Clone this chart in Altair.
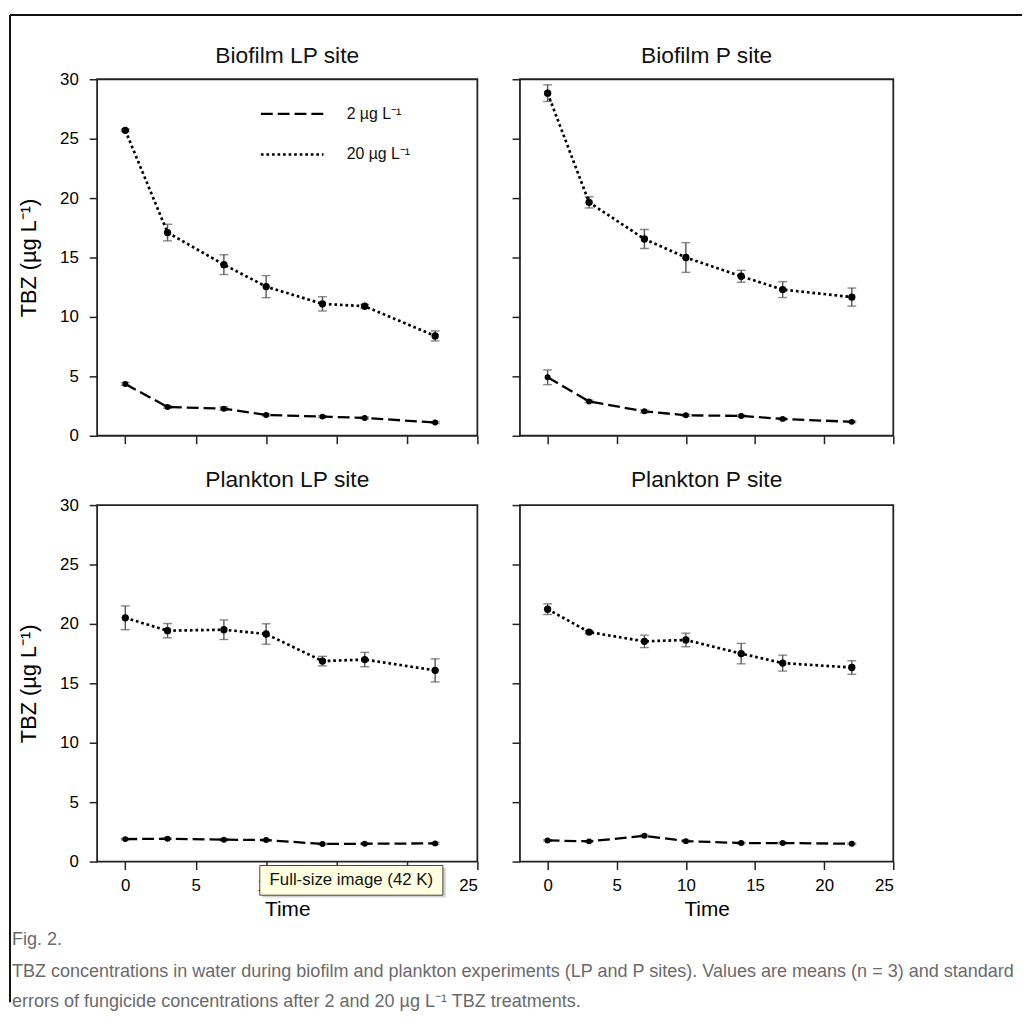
import altair as alt
import pandas as pd

FONT = "Liberation Sans, Arial, Helvetica, sans-serif"

# ---- data ----
times = [0, 3, 7, 10, 14, 17, 22]
CONCS = ["2 µg L⁻¹", "20 µg L⁻¹"]

biofilm_lp_2 = [4.36, 2.42, 2.28, 1.75, 1.61, 1.50, 1.11]
biofilm_lp_2_se = [0.12, 0.10, 0.14, 0.08, 0.08, 0.08, 0.06]
biofilm_lp_20 = [25.7, 17.1, 14.4, 12.55, 11.1, 10.9, 8.4]
biofilm_lp_20_se = [0.10, 0.70, 0.83, 0.93, 0.60, 0.15, 0.42]

biofilm_p_2 = [4.92, 2.89, 2.06, 1.72, 1.67, 1.42, 1.17]
biofilm_p_2_se = [0.62, 0.10, 0.12, 0.08, 0.08, 0.08, 0.06]
biofilm_p_20 = [28.83, 19.64, 16.56, 15.0, 13.42, 12.3, 11.67]
biofilm_p_20_se = [0.70, 0.47, 0.80, 1.25, 0.50, 0.67, 0.76]

plankton_lp_2 = [1.89, 1.92, 1.84, 1.81, 1.48, 1.50, 1.53]
plankton_lp_2_se = [0.06, 0.06, 0.08, 0.06, 0.06, 0.06, 0.08]
plankton_lp_20 = [20.51, 19.43, 19.51, 19.15, 16.87, 17.0, 16.09]
plankton_lp_20_se = [1.0, 0.6, 0.82, 0.86, 0.40, 0.60, 0.97]

plankton_p_2 = [1.78, 1.70, 2.17, 1.72, 1.56, 1.56, 1.50]
plankton_p_2_se = [0.06, 0.06, 0.08, 0.06, 0.06, 0.06, 0.06]
plankton_p_20 = [21.24, 19.31, 18.53, 18.65, 17.5, 16.7, 16.33]
plankton_p_20_se = [0.45, 0.12, 0.53, 0.57, 0.86, 0.67, 0.57]

panel_titles = ["Biofilm LP site", "Biofilm P site", "Plankton LP site", "Plankton P site"]
series = {
    "Biofilm LP site": [(biofilm_lp_2, biofilm_lp_2_se), (biofilm_lp_20, biofilm_lp_20_se)],
    "Biofilm P site": [(biofilm_p_2, biofilm_p_2_se), (biofilm_p_20, biofilm_p_20_se)],
    "Plankton LP site": [(plankton_lp_2, plankton_lp_2_se), (plankton_lp_20, plankton_lp_20_se)],
    "Plankton P site": [(plankton_p_2, plankton_p_2_se), (plankton_p_20, plankton_p_20_se)],
}

x_ticks = [0, 5, 10, 15, 20, 25]
y_ticks = [0, 5, 10, 15, 20, 25, 30]
Y_TITLE = "TBZ (µg L⁻¹)"
X_TITLE = "Time"

caption_lines = [
    "Fig. 2.",
    "TBZ concentrations in water during biofilm and plankton experiments (LP and P sites). Values are means (n = 3) and standard",
    "errors of fungicide concentrations after 2 and 20 µg L⁻¹ TBZ treatments.",
]
tooltip_text = ["Full-size image (42 K)"]


def panel_df(title):
    rows = []
    for conc, (vals, ses) in zip(CONCS, series[title]):
        for t, v, s in zip(times, vals, ses):
            rows.append({"time": t, "mean": v, "lo": v - s, "hi": v + s, "conc": conc})
    return pd.DataFrame(rows)


def make_panel(title, width, show_y, show_x, legend=False, tooltip=False, title_offset=2):
    d = panel_df(title)
    xscale = alt.Scale(domain=[-2, 25], nice=False, zero=False)
    yscale = alt.Scale(domain=[0, 30], nice=False, zero=False)
    xaxis = alt.Axis(values=x_ticks, labels=show_x, title=X_TITLE if show_x else None,
                     labelPadding=8, titlePadding=5)
    # hidden panels keep (invisible) labels so that all panel titles sit at the same height
    yaxis = alt.Axis(values=y_ticks, labels=True, labelOpacity=1 if show_y else 0,
                     title=Y_TITLE if show_y else None, labelPadding=11, titlePadding=19)

    def X(f):
        return alt.X(f, type="quantitative", scale=xscale, axis=xaxis)

    def Y(f):
        return alt.Y(f, type="quantitative", scale=yscale, axis=yaxis)

    base = alt.Chart(d)
    if legend:
        leg = alt.Legend(orient="none", legendX=164, legendY=2, title=None,
                         symbolType="stroke", symbolSize=4000, symbolStrokeColor="black",
                         labelFont=FONT, labelFontSize=16, labelColor="#111", labelAlign="left",
                         labelOffset=22, rowPadding=-18)
    else:
        leg = None
    dash = alt.StrokeDash("conc:N", scale=alt.Scale(domain=CONCS, range=[[12, 5], [2.7, 2.9]]),
                          legend=leg)
    sw = alt.StrokeWidth("conc:N", scale=alt.Scale(domain=CONCS, range=[2.3, 2.7]), legend=leg)

    lines = base.mark_line(color="black").encode(
        x=X("time"), y=Y("mean"), strokeDash=dash, strokeWidth=sw)
    err = base.mark_rule(color="#555", strokeWidth=1.4).encode(x=X("time"), y=Y("lo"), y2="hi:Q")
    cap_lo = base.mark_tick(color="#555", orient="horizontal", size=9, thickness=1.4).encode(
        x=X("time"), y=Y("lo"))
    cap_hi = base.mark_tick(color="#555", orient="horizontal", size=9, thickness=1.4).encode(
        x=X("time"), y=Y("hi"))
    pts_lo = base.transform_filter(alt.datum.conc == CONCS[0]).mark_point(
        filled=True, color="black", opacity=1, size=36).encode(x=X("time"), y=Y("mean"))
    pts_hi = base.transform_filter(alt.datum.conc == CONCS[1]).mark_point(
        filled=True, color="black", opacity=1, size=55).encode(x=X("time"), y=Y("mean"))

    layers = [err, cap_lo, cap_hi, lines, pts_lo, pts_hi]
    if tooltip:
        # screenshot tooltip overlay
        tip = pd.DataFrame({"time": [9.55], "time2": [22.55], "mean": [-0.33], "mean2": [-2.83],
                            "tc": [16.05], "mc": [-1.58], "label": tooltip_text})
        tb = alt.Chart(tip)
        shadow = tb.mark_rect(fill="#000", opacity=0.18).transform_calculate(
            s1="datum.time + 0.2", s2="datum.time2 + 0.2", m1="datum.mean - 0.2", m2="datum.mean2 - 0.2"
        ).encode(x=X("s1"), x2="s2:Q", y=Y("m1"), y2="m2:Q")
        box = tb.mark_rect(fill="#ffffe1", stroke="#444", strokeWidth=1).encode(
            x=X("time"), x2="time2:Q", y=Y("mean"), y2="mean2:Q")
        txt = tb.mark_text(font=FONT, fontSize=17, color="#111", baseline="middle").encode(
            x=X("tc"), y=Y("mc"), text="label:N")
        layers += [shadow, box, txt]

    return alt.layer(*layers).properties(
        width=width, height=360,
        title=alt.TitleParams(title, anchor="middle", offset=title_offset, font=FONT, fontSize=23,
                              fontWeight="normal", color="#111"))


A = make_panel(panel_titles[0], 384, True, False, legend=True)
B = make_panel(panel_titles[1], 377, False, False)
C = make_panel(panel_titles[2], 384, True, True, tooltip=True, title_offset=4)
D = make_panel(panel_titles[3], 377, False, True, title_offset=4)

# figure caption and page frame (decoration, pixel offsets from this cell)
cap_df = pd.DataFrame({"line": caption_lines, "k": [0, 1, 2]})
capbase = alt.Chart(cap_df)
cap_layers = [
    capbase.transform_filter("datum.k == 0").mark_rule(color="#111", strokeWidth=2).encode(
        x=alt.value(-88), x2=alt.value(934), y=alt.value(-925)),
    capbase.transform_filter("datum.k == 0").mark_rule(color="#111", strokeWidth=2).encode(
        x=alt.value(-88), y=alt.value(-925), y2=alt.value(72)),
]
for i, yv in enumerate([9, 42, 72]):
    cap_layers.append(
        capbase.transform_filter(f"datum.k == {i}").mark_text(
            font=FONT, fontSize=18.2, color="#6a6a6a", align="left", baseline="middle"
        ).encode(x=alt.value(-86), y=alt.value(yv), text="line:N"))
caption = alt.layer(*cap_layers).properties(
    width=384, height=72, view=alt.ViewBackground(stroke="transparent"))

chart = alt.concat(A, B, C, D, caption, columns=2, spacing={"row": 70, "column": 43},
                   bounds="flush").properties(
    padding=0
).configure_view(
    stroke="#222", strokeWidth=1.8
).configure_axis(
    domain=False, grid=False, tickColor="#222", tickWidth=1.5, tickSize=8,
    labelFont=FONT, labelFontSize=17, labelColor="#000",
    titleFont=FONT, titleFontSize=22, titleFontWeight="normal", titleColor="#000"
).configure_axisX(titleFontSize=21)

chart.save("out.html", embed_options={"renderer": "svg", "actions": False})
